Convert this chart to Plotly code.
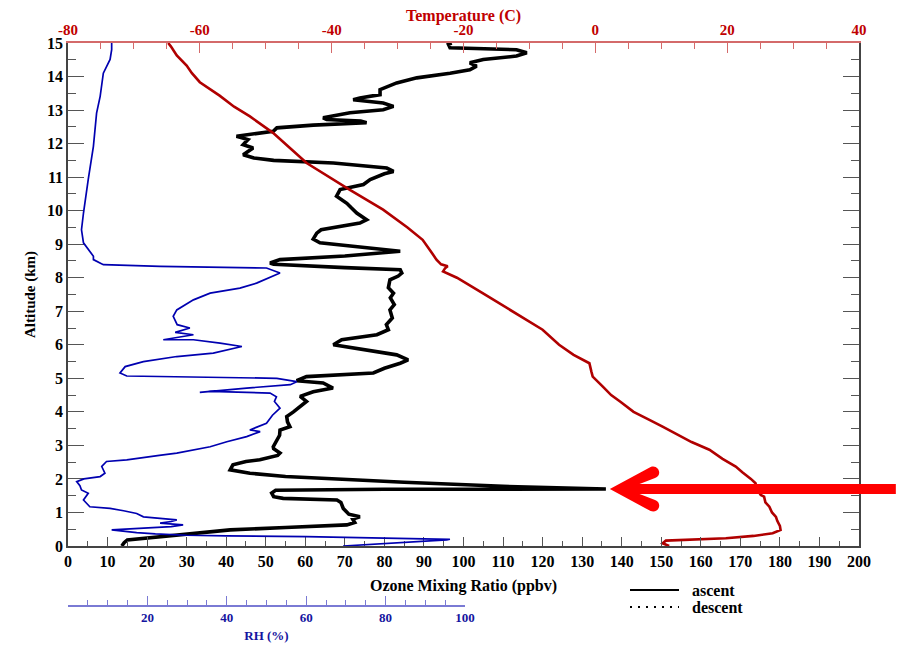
import plotly.graph_objects as go

# Ozone mixing ratio (ppbv) versus altitude (km), ascent profile
oz_alt = [0.00, 0.10, 0.18, 0.32, 0.48, 0.55, 0.63, 0.70, 0.80, 0.87, 0.95, 1.12, 1.30, 1.37,
          1.42, 1.47, 1.58, 1.66, 1.69, 1.70, 1.78, 1.90, 1.97, 2.07, 2.17, 2.27, 2.42, 2.52,
          2.57, 2.70, 2.77, 2.90, 2.96, 3.10, 3.30, 3.46, 3.56, 3.70, 3.86, 4.00, 4.16, 4.31,
          4.46, 4.60, 4.71, 4.86, 4.93, 5.05, 5.16, 5.30, 5.45, 5.55, 5.70, 5.85, 6.00, 6.15,
          6.30, 6.45, 6.60, 6.80, 7.04, 7.20, 7.40, 7.54, 7.70, 7.94, 8.05, 8.14, 8.24, 8.30,
          8.40, 8.44, 8.54, 8.65, 8.79, 8.90, 9.04, 9.15, 9.33, 9.43, 9.63, 9.73, 9.93, 10.10,
          10.22, 10.43, 10.63, 10.78, 10.93, 11.10, 11.17, 11.27, 11.42, 11.50, 11.57, 11.67,
          11.87, 11.97, 12.12, 12.22, 12.37, 12.47, 12.55, 12.62, 12.67, 12.72, 12.77, 12.92,
          13.01, 13.11, 13.21, 13.31, 13.36, 13.46, 13.61, 13.81, 13.96, 14.10, 14.20, 14.31,
          14.41, 14.51, 14.61, 14.71, 14.80, 14.86, 14.96, 15.00]
ozone = [13.6, 14.2, 15.0, 28.0, 41.0, 55.0, 70.5, 72.5, 72.0, 73.8, 71.0, 69.6, 69.0, 68.0,
         54.4, 52.0, 51.5, 52.5, 80.0, 136.0, 110.0, 85.0, 73.0, 55.0, 46.0, 41.0, 41.7, 45.0,
         48.5, 53.0, 53.6, 52.0, 51.9, 52.5, 53.5, 53.6, 56.1, 55.5, 55.3, 57.0, 58.7, 60.3,
         58.7, 62.0, 67.0, 64.5, 57.8, 60.3, 77.2, 80.0, 84.0, 86.0, 83.1, 75.0, 67.1, 69.2,
         78.1, 81.0, 80.5, 82.0, 81.4, 82.5, 81.5, 82.3, 81.0, 81.4, 83.5, 84.4, 84.0, 70.0,
         52.0, 51.1, 53.6, 70.0, 84.0, 75.0, 63.7, 62.0, 62.9, 64.0, 73.8, 75.5, 73.0, 71.5,
         70.5, 67.9, 68.8, 74.7, 76.4, 80.0, 82.3, 80.6, 67.1, 52.0, 47.0, 44.3,
         46.8, 44.3, 45.5, 42.6, 51.9, 52.8, 62.0, 75.5, 74.0, 65.4, 64.5, 71.3,
         79.7, 82.3, 79.7, 72.1, 73.8, 78.9, 78.9, 83.1, 88.2, 96.6, 101.6, 103.3,
         101.6, 105.0, 113.4, 116.0, 113.4, 96.6, 96.2, 97.0]

# Air temperature (C) versus altitude (km)
t_alt = [0.00, 0.08, 0.16, 0.23, 0.30, 0.38, 0.48, 0.60, 0.75, 0.87, 1.00, 1.17, 1.30, 1.47,
         1.52, 1.70, 1.87, 2.00, 2.20, 2.37, 2.60, 2.87, 3.10, 3.36, 3.56, 3.76, 4.00, 4.30,
         4.50, 4.76, 4.90, 5.05, 5.20, 5.45, 5.70, 6.00, 6.45, 7.00, 7.54, 8.00, 8.19, 8.28,
         8.34, 8.40, 8.54, 8.80, 9.13, 9.50, 10.03, 10.63, 11.00, 11.42, 11.90, 12.32, 12.81,
         13.10, 13.43, 13.83, 14.10, 14.33, 14.63, 14.80, 14.90, 15.00]
temperature = [11.2, 10.2, 10.7, 19.8, 24.0, 26.9, 28.1, 28.0, 27.6, 27.4, 26.8, 26.4, 25.8, 25.6,
               25.1, 24.5, 24.3, 23.6, 22.3, 21.3, 19.3, 17.3, 14.6, 12.2, 10.2, 8.2, 5.8, 3.8,
               2.4, 1.1, 0.3, -0.4, -0.6, -0.9, -3.3, -5.5, -8.0, -12.5, -17.1, -21.0, -23.1, -22.8,
               -22.4, -23.4, -24.1, -25.0, -26.2, -28.5, -32.2, -37.3, -40.3, -43.8, -46.5, -48.9, -52.4,
               -54.8, -57.0, -60.0, -61.2, -62.0, -63.5, -64.0, -64.4, -64.8]

# Relative humidity (%) versus altitude (km)
rh_alt = [0.00, 0.10, 0.18, 0.20, 0.24, 0.28, 0.30, 0.32, 0.36, 0.40, 0.48, 0.53, 0.58, 0.63,
          0.68, 0.73, 0.78, 0.87, 0.97, 1.05, 1.12, 1.17, 1.37, 1.57, 1.67, 1.80, 1.92, 2.00,
          2.07, 2.17, 2.37, 2.52, 2.57, 2.70, 2.77, 2.96, 3.11, 3.26, 3.41, 3.46, 3.66, 3.90,
          4.11, 4.31, 4.45, 4.56, 4.61, 4.58, 4.64, 4.71, 4.81, 4.90, 5.00, 5.05, 5.07, 5.16,
          5.35, 5.50, 5.65, 5.75, 5.95, 6.05, 6.15, 6.15, 6.25, 6.30, 6.37, 6.50, 6.60, 6.85,
          7.04, 7.34, 7.54, 7.69, 7.84, 8.14, 8.29, 8.34, 8.39, 8.54, 8.64, 9.04, 9.43, 9.93,
          10.93, 11.92, 12.91, 13.41, 14.10, 14.51, 14.80, 15.00]
rh = [69.3, 85.0, 95.4, 96.2, 80.0, 60.0, 40.0, 29.9, 22.0, 17.3, 11.0, 19.0, 26.0, 29.0,
      23.2, 26.0, 27.4, 19.0, 17.3, 14.0, 10.6, 5.5, 3.9, 5.1, 3.4, 3.0, 2.2, 4.0,
      8.1, 9.3, 8.5, 9.7, 14.8, 23.0, 27.4, 35.8, 40.0, 45.0, 48.4, 45.8, 50.0, 51.5,
      53.4, 52.0, 52.5, 50.9, 35.8, 33.2, 38.0, 45.0, 56.0, 57.6, 52.6, 31.6, 14.8, 13.1,
      14.4, 19.0, 27.4, 36.6, 43.8, 38.3, 31.6, 24.0, 29.5, 31.6, 27.0, 30.7, 27.5, 26.5,
      27.4, 31.6, 35.8, 43.3, 47.5, 53.4, 50.0, 23.2, 8.9, 6.4, 6.4, 3.9, 3.4, 3.9,
      5.1, 6.4, 7.2, 8.1, 8.9, 10.6, 11.0, 11.0]

alt_ticks = list(range(0, 16))
ozone_ticks = list(range(0, 201, 10))
temp_ticks = [-80, -60, -40, -20, 0, 20, 40]
temp_ticktext = ["-80", "-60", "-40", "-20", "0", "20", "40"]
rh_ticks = [0, 20, 40, 60, 80, 100]
rh_ticktext = ["", "20", "40", "60", "80", "100"]

SERIF = "Liberation Serif"
RED = "#c00000"
BLUE = "#1414a0"
Y_DOM0 = 0.1066


def to_paper(px, py):
    """Pixel position in the 901x646 canvas -> paper coordinates."""
    return (px - 68) / 791.0, (606 - py) / 563.0


fig = go.Figure()

fig.add_trace(go.Scatter(x=rh, y=rh_alt, xaxis="x3", yaxis="y", mode="lines",
                         line=dict(color="#0000b0", width=1.7), showlegend=False,
                         name="RH"))
fig.add_trace(go.Scatter(x=temperature, y=t_alt, xaxis="x2", yaxis="y", mode="lines",
                         line=dict(color="#b00000", width=2.6), showlegend=False,
                         name="Temperature"))
fig.add_trace(go.Scatter(x=ozone, y=oz_alt, xaxis="x", yaxis="y", mode="lines",
                         line=dict(color="black", width=3.6), showlegend=False,
                         name="ascent"))

bold = dict(family=SERIF, weight=700)

fig.update_layout(
    width=901, height=646,
    margin=dict(l=68, r=42, t=43, b=40, autoexpand=False),
    paper_bgcolor="white", plot_bgcolor="rgba(0,0,0,0)",
    showlegend=False,
    yaxis=dict(
        domain=[Y_DOM0, 1], range=[0, 15], anchor="x",
        tickvals=alt_ticks, ticks="inside", ticklen=16, tickwidth=1.3, tickcolor="#555",
        minor=dict(ticks="inside", ticklen=8, dtick=0.5, tickwidth=1.3, tickcolor="#555"),
        showline=True, linecolor="#444", linewidth=1.5, mirror="ticks",
        showgrid=False, zeroline=False,
        tickfont=dict(size=16, color="black", **bold),
        title=dict(text="Altitude (km)", font=dict(size=15, color="black", **bold), standoff=8),
    ),
    xaxis=dict(
        domain=[0, 1], range=[0, 200], anchor="y", side="bottom",
        tickvals=ozone_ticks, ticks="inside", ticklen=9, tickwidth=1.3, tickcolor="#555",
        minor=dict(ticks="inside", ticklen=5, dtick=5, tickwidth=1.3, tickcolor="#555"),
        showline=True, linecolor="#444", linewidth=1.5, mirror=False,
        showgrid=False, zeroline=False,
        tickfont=dict(size=16, color="black", **bold),
        title=dict(text="Ozone Mixing Ratio (ppbv)", font=dict(size=16, color="black", **bold),
                   standoff=11),
    ),
    xaxis2=dict(
        overlaying="x", side="top", anchor="y", range=[-80, 40],
        tickvals=temp_ticks, ticktext=temp_ticktext, ticks="inside", ticklen=10,
        tickwidth=1.2, tickcolor="#d46a6a",
        minor=dict(ticks="inside", ticklen=6, dtick=5, tickwidth=1.2, tickcolor="#d46a6a"),
        showline=True, linecolor="#d46a6a", linewidth=1.5,
        showgrid=False, zeroline=False,
        tickfont=dict(size=15, color=RED, **bold),
    ),
    xaxis3=dict(
        domain=[0, 0.5019], anchor="free", position=0, side="bottom", range=[0, 100],
        tickvals=rh_ticks, ticktext=rh_ticktext, ticks="inside", ticklen=9, tickwidth=1.2,
        tickcolor="#7a7ad4",
        minor=dict(ticks="inside", ticklen=5, dtick=5, tickwidth=1.2, tickcolor="#7a7ad4"),
        showline=True, linecolor="#7a7ad4", linewidth=1.5,
        showgrid=False, zeroline=False,
        tickfont=dict(size=13, color=BLUE, **bold),
        title=dict(text="RH (%)", font=dict(size=13, color=BLUE, **bold), standoff=6),
    ),
)

# Temperature axis title, centred above the top axis
ttx, tty = to_paper(465, 16)
fig.add_annotation(xref="paper", yref="paper", x=0.5, y=tty, text="Temperature (C)",
                   showarrow=False, xanchor="center", yanchor="middle",
                   font=dict(size=16, color=RED, **bold))

# Big red arrow pointing at the ozone maximum
peak_i = max(range(len(ozone)), key=lambda i: ozone[i])
tip_x = (ozone[peak_i] + 1.0) / 200.0
tip_y = Y_DOM0 + (oz_alt[peak_i] / 15.0) * (1 - Y_DOM0)
arrow_path = ("M0,0 L40.8,-22.1 C48.8,-25.0 53.1,-13.8 45.2,-10.9 L29.7,-5 L286,-5 "
              "L286,5 L29.7,5 L45.2,10.9 C53.1,13.8 48.8,25.0 40.8,22.1 Z")
fig.add_shape(type="path", xref="paper", yref="paper", xsizemode="pixel", ysizemode="pixel",
              xanchor=tip_x, yanchor=tip_y, path=arrow_path,
              fillcolor="#ff0000", line=dict(width=0), layer="above")

# Line-style key below the plot
for (py, dash, label) in [(590, "solid", "ascent"), (607, "2px,6px", "descent")]:
    x0, y0 = to_paper(630, py)
    x1, _ = to_paper(679, py)
    fig.add_shape(type="line", xref="paper", yref="paper", x0=x0, x1=x1, y0=y0, y1=y0,
                  line=dict(color="black", width=2, dash=dash))
    tx, _ = to_paper(690, py)
    fig.add_annotation(xref="paper", yref="paper", x=tx, y=y0, text=label, showarrow=False,
                       xanchor="left", yanchor="middle",
                       font=dict(size=16, color="black", **bold))

fig.write_html("out.html")
